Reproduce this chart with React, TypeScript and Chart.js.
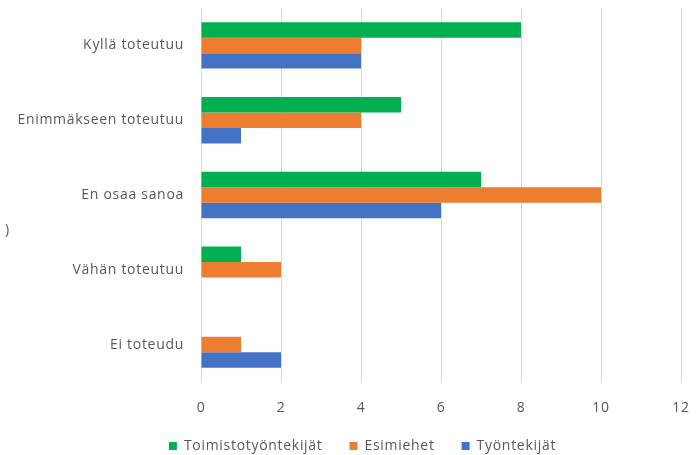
import React, { useEffect, useRef } from "react";
import { Chart, registerables } from "chart.js";

Chart.register(...registerables);

const categories = ["Kyllä toteutuu", "Enimmäkseen toteutuu", "En osaa sanoa", "Vähän toteutuu", "Ei toteudu"];
const toimisto = [8, 5, 7, 1, 0];
const esimiehet = [4, 4, 10, 2, 1];
const tyontekijat = [4, 1, 6, 0, 2];
const seriesNames = ["Toimistotyöntekijät", "Esimiehet", "Työntekijät"];
const xTicksMax = 12;
const strayText = ")";

const FONT = "'Open Sans', sans-serif";
const GRAY = "#595959";

const spacingPlugin = {
  id: "spacing",
  beforeUpdate(chart: any) {
    chart.ctx.letterSpacing = "0.7px";
  },
  afterLayout(chart: any) {
    const lg = chart.legend;
    if (lg) {
      lg.left += 22;
      lg.right += 22;
    }
  },
};

const strayPlugin = {
  id: "stray",
  afterDraw(chart: any) {
    const ctx = chart.ctx;
    ctx.save();
    ctx.fillStyle = GRAY;
    ctx.font = `14px ${FONT}`;
    ctx.textBaseline = "middle";
    ctx.fillText(strayText, 5, 230);
    ctx.restore();
  },
};

export default function App() {
  const ref = useRef<HTMLCanvasElement | null>(null);
  useEffect(() => {
    if (!ref.current) return;
    const chart = new Chart(ref.current, {
      type: "bar",
      data: {
        labels: categories,
        datasets: [
          { label: seriesNames[0], data: toimisto, backgroundColor: "#00B050" },
          { label: seriesNames[1], data: esimiehet, backgroundColor: "#ED7D31" },
          { label: seriesNames[2], data: tyontekijat, backgroundColor: "#4472C4" },
        ],
      },
      options: {
        indexAxis: "y",
        animation: false,
        responsive: false,
        maintainAspectRatio: false,
        layout: { padding: { left: 0, right: 15, top: 8, bottom: -8 } },
        datasets: { bar: { categoryPercentage: 0.62, barPercentage: 1.0 } },
        scales: {
          x: {
            min: 0,
            max: xTicksMax,
            ticks: { stepSize: 2, color: GRAY, font: { family: FONT, size: 14 }, padding: 18 },
            grid: { color: "#d9d9d9", lineWidth: 1, drawTicks: false },
            border: { display: false },
            afterFit(scale: any) {
              scale.height = 30;
              scale.paddingLeft = 0;
              scale.paddingRight = 0;
            },
          },
          y: {
            ticks: { color: GRAY, font: { family: FONT, size: 14 }, padding: 17 },
            grid: { display: false, drawTicks: false },
            border: { display: false },
            afterFit(scale: any) {
              scale.width = 201;
              scale.paddingTop = 0;
              scale.paddingBottom = 0;
            },
          },
        },
        plugins: {
          legend: {
            position: "bottom",
            labels: {
              color: GRAY,
              font: { family: FONT, size: 14 },
              boxWidth: 8,
              boxHeight: 8,
              padding: 27,
            },
          },
          tooltip: { enabled: false },
        },
      },
      plugins: [spacingPlugin, strayPlugin],
    });
    return () => chart.destroy();
  }, []);
  return (
    <div style={{ position: "absolute", left: 0, top: 0, width: 696, height: 455, background: "#fff" }}>
      <canvas ref={ref} width={696} height={455} style={{ width: 696, height: 455 }} />
    </div>
  );
}
